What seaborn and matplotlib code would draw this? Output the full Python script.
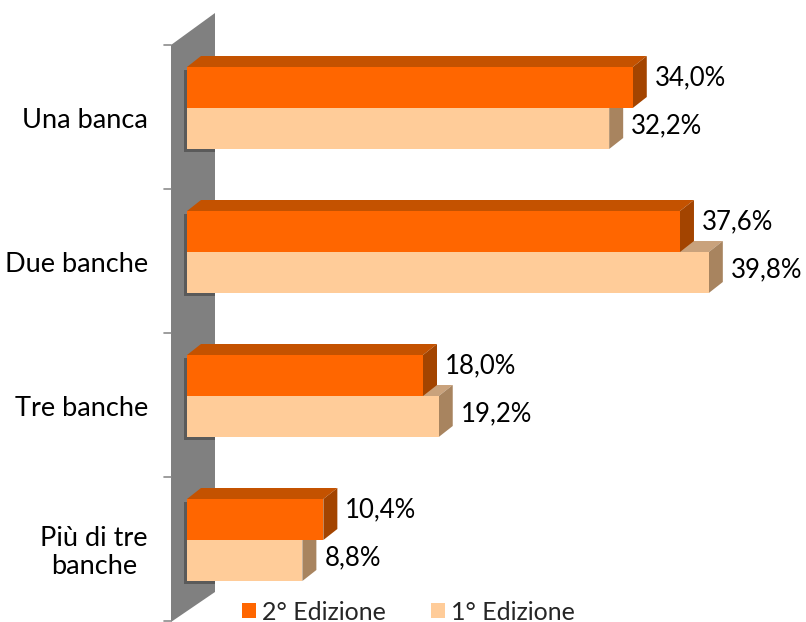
import numpy as np
import pandas as pd
import matplotlib
matplotlib.use("Agg")
import matplotlib.pyplot as plt
import seaborn as sns
from matplotlib.patches import Polygon, Rectangle

# ---- data ----
categories = ["Una banca", "Due banche", "Tre banche", "Più di tre\nbanche"]
series = ["2° Edizione", "1° Edizione"]
ed2 = [34.0, 37.6, 18.0, 10.4]
ed1 = [32.2, 39.8, 19.2, 8.8]

front = {"2° Edizione": "#FF6600", "1° Edizione": "#FFCC99"}
topc = {"2° Edizione": "#C45200", "1° Edizione": "#C9A27C"}
sidec = {"2° Edizione": "#A34400", "1° Edizione": "#A8845F"}

df = pd.DataFrame({
    "cat": categories * 2,
    "serie": [series[0]] * 4 + [series[1]] * 4,
    "val": ed2 + ed1,
})

sns.set_theme(style="white")
plt.rcParams['font.family'] = ['Lato', 'DejaVu Sans']
FS = 19.5
VFS = 18.5

W, H = 806, 622
fig = plt.figure(figsize=(W / 100, H / 100), dpi=100)
ax = fig.add_axes([187 / W, 1 / H, 590 / W, 576 / H])

sns.barplot(data=df, y="cat", x="val", hue="serie", hue_order=series,
            order=categories, palette=front, width=82 / 144, orient="h",
            saturation=1, linewidth=0, ax=ax, legend=True)
ax.set_xlim(0, 45)
ax.set_ylim(3.5625, -0.4375)
ax.set_axis_off()

# pixel -> data scale
p0 = ax.transData.transform((0, 0))
px_x = (ax.transData.transform((1, 0)) - p0)[0]
px_y = (ax.transData.transform((0, 1)) - p0)[1]  # negative (inverted)
def dx(p):
    return p / px_x
def dy(p):  # p pixels upward
    return p / px_y

ytop, ybot = ax.get_ylim()[1], ax.get_ylim()[0]

# wall
wall = Polygon([(dx(-16), ytop), (dx(28), ytop + dy(32)),
                (dx(28), ybot + dy(29)), (dx(-16), ybot + dy(-1))],
               closed=True, facecolor="#808080", edgecolor="none",
               zorder=1, clip_on=False)
ax.add_patch(wall)

# ticks on wall edge
for k in range(5):
    ax.plot([dx(-23), dx(-16)], [ytop + k, ytop + k], color="#8c8c8c",
            lw=1.2, clip_on=False, zorder=1)

DX, DY = dx(14), dy(11)
bars = list(ax.patches)
bars = [b for b in bars if isinstance(b, Rectangle) and b.get_width() > 0]
for b in bars:
    fc = matplotlib.colors.to_hex(b.get_facecolor())
    s = series[0] if fc.lower() == front[series[0]].lower() else series[1]
    z = 5 if s == series[0] else 3
    x0, yt = b.get_x(), b.get_y()
    w, h = b.get_width(), b.get_height()
    yb = yt + h
    v = x0 + w
    b.set_zorder(z + 0.5)
    # shadow on wall
    sh = Rectangle((x0 + dx(-3), yt + dy(-3)), w, h, facecolor="#5a5a5a",
                   edgecolor="none", zorder=1.5)
    ax.add_patch(sh)
    sh.set_clip_path(wall)
    sh.set_clip_box(None)
    sh.set_clip_on(True)
    top = Polygon([(x0, yt), (v, yt), (v + DX, yt + DY), (x0 + DX, yt + DY)],
                  closed=True, facecolor=topc[s], edgecolor="none", zorder=z,
                  clip_on=False)
    side = Polygon([(v, yt), (v, yb), (v + DX, yb + DY), (v + DX, yt + DY)],
                   closed=True, facecolor=sidec[s], edgecolor="none", zorder=z,
                   clip_on=False)
    ax.add_patch(top)
    ax.add_patch(side)
    off = 10 if s == series[0] else 3
    ax.annotate(f"{v:.1f}".replace(".", ",") + "%", xy=(v, yt + h / 2),
                xytext=(22, off), textcoords="offset pixels",
                ha="left", va="center", fontsize=VFS, color="black",
                zorder=10, annotation_clip=False)

# category labels
for i, c in enumerate(categories):
    ax.text(dx(-39), i + 0.0625 + dy(-4), c, ha="right", va="center",
            multialignment="center", fontsize=FS, color="black",
            linespacing=1.15)

# legend
leg = ax.get_legend()
handles = leg.legend_handles
labels = [t.get_text() for t in leg.get_texts()]
leg.remove()
LFS = 18
fig.legend(handles, labels, loc="center", bbox_to_anchor=(0.507, 10 / H),
           ncol=2, frameon=False, fontsize=LFS, handlelength=0.55,
           handleheight=0.55, handletextpad=0.25, columnspacing=1.8)

fig.savefig("out.png", dpi=100)
